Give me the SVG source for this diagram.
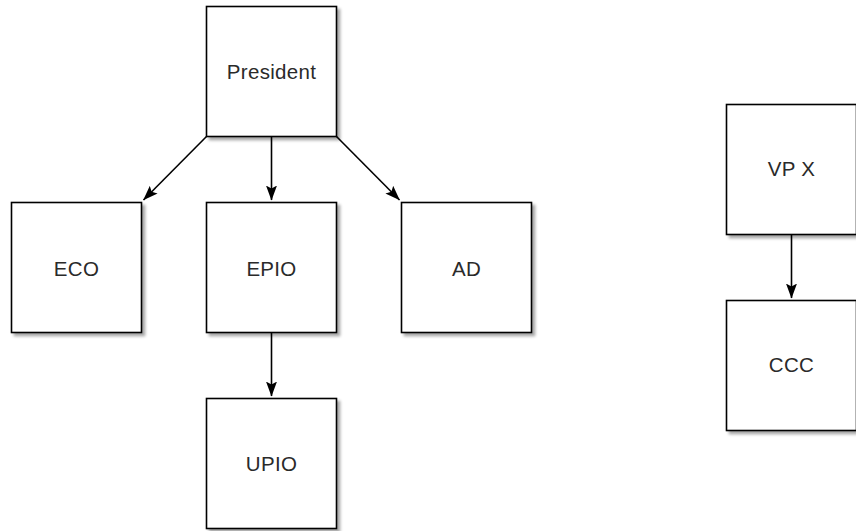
<svg xmlns="http://www.w3.org/2000/svg" width="856" height="531" viewBox="0 0 856 531">
<style>
.box{fill:#ffffff;stroke:#000000;stroke-width:1.6}
.lbl{font-family:"Liberation Sans",Arial,Helvetica,sans-serif;font-size:20.5px;letter-spacing:0.3px;fill:#2a2a2a;text-anchor:middle;dominant-baseline:central}
.edge{stroke:#000000;stroke-width:1.6;fill:none}
</style>
<defs>
<filter id="sh" x="-10%" y="-10%" width="130%" height="130%">
<feGaussianBlur in="SourceAlpha" stdDeviation="1.5"/>
<feOffset dx="3" dy="3" result="b"/>
<feComponentTransfer><feFuncA type="linear" slope="0.35"/></feComponentTransfer>
<feMerge><feMergeNode/><feMergeNode in="SourceGraphic"/></feMerge>
</filter>
<marker id="ah" viewBox="0 0 15 12" refX="14.5" refY="6" markerWidth="15" markerHeight="12" markerUnits="userSpaceOnUse" orient="auto">
<path d="M0,0.5 L15,6 L0,11.5 L3,6 Z" fill="#000000"/>
</marker>
</defs>
<rect width="856" height="531" fill="#ffffff"/>
<g id="connectors">
<line class="edge" x1="271.5" y1="136.5" x2="271.5" y2="200" marker-end="url(#ah)"/>
<line class="edge" x1="206.5" y1="136.5" x2="143.5" y2="200" marker-end="url(#ah)"/>
<line class="edge" x1="336.5" y1="136.5" x2="399.5" y2="200" marker-end="url(#ah)"/>
<line class="edge" x1="271.5" y1="332.5" x2="271.5" y2="396" marker-end="url(#ah)"/>
<line class="edge" x1="791.5" y1="234.5" x2="791.5" y2="298" marker-end="url(#ah)"/>
</g>
<g id="president"><rect class="box" filter="url(#sh)" x="206.5" y="6.5" width="130" height="130"/><text class="lbl" x="271.5" y="71">President</text></g>
<g id="eco"><rect class="box" filter="url(#sh)" x="11.5" y="202.5" width="130" height="130"/><text class="lbl" x="76.5" y="268">ECO</text></g>
<g id="epio"><rect class="box" filter="url(#sh)" x="206.5" y="202.5" width="130" height="130"/><text class="lbl" x="271.5" y="268">EPIO</text></g>
<g id="ad"><rect class="box" filter="url(#sh)" x="401.5" y="202.5" width="130" height="130"/><text class="lbl" x="466.5" y="268">AD</text></g>
<g id="upio"><rect class="box" filter="url(#sh)" x="206.5" y="398.5" width="130" height="130"/><text class="lbl" x="271.5" y="463">UPIO</text></g>
<g id="vpx"><rect class="box" filter="url(#sh)" x="726.5" y="104.5" width="130" height="130"/><text class="lbl" x="791.5" y="168.5">VP X</text></g>
<g id="ccc"><rect class="box" filter="url(#sh)" x="726.5" y="300.5" width="130" height="130"/><text class="lbl" x="791.5" y="364.5">CCC</text></g>
</svg>
